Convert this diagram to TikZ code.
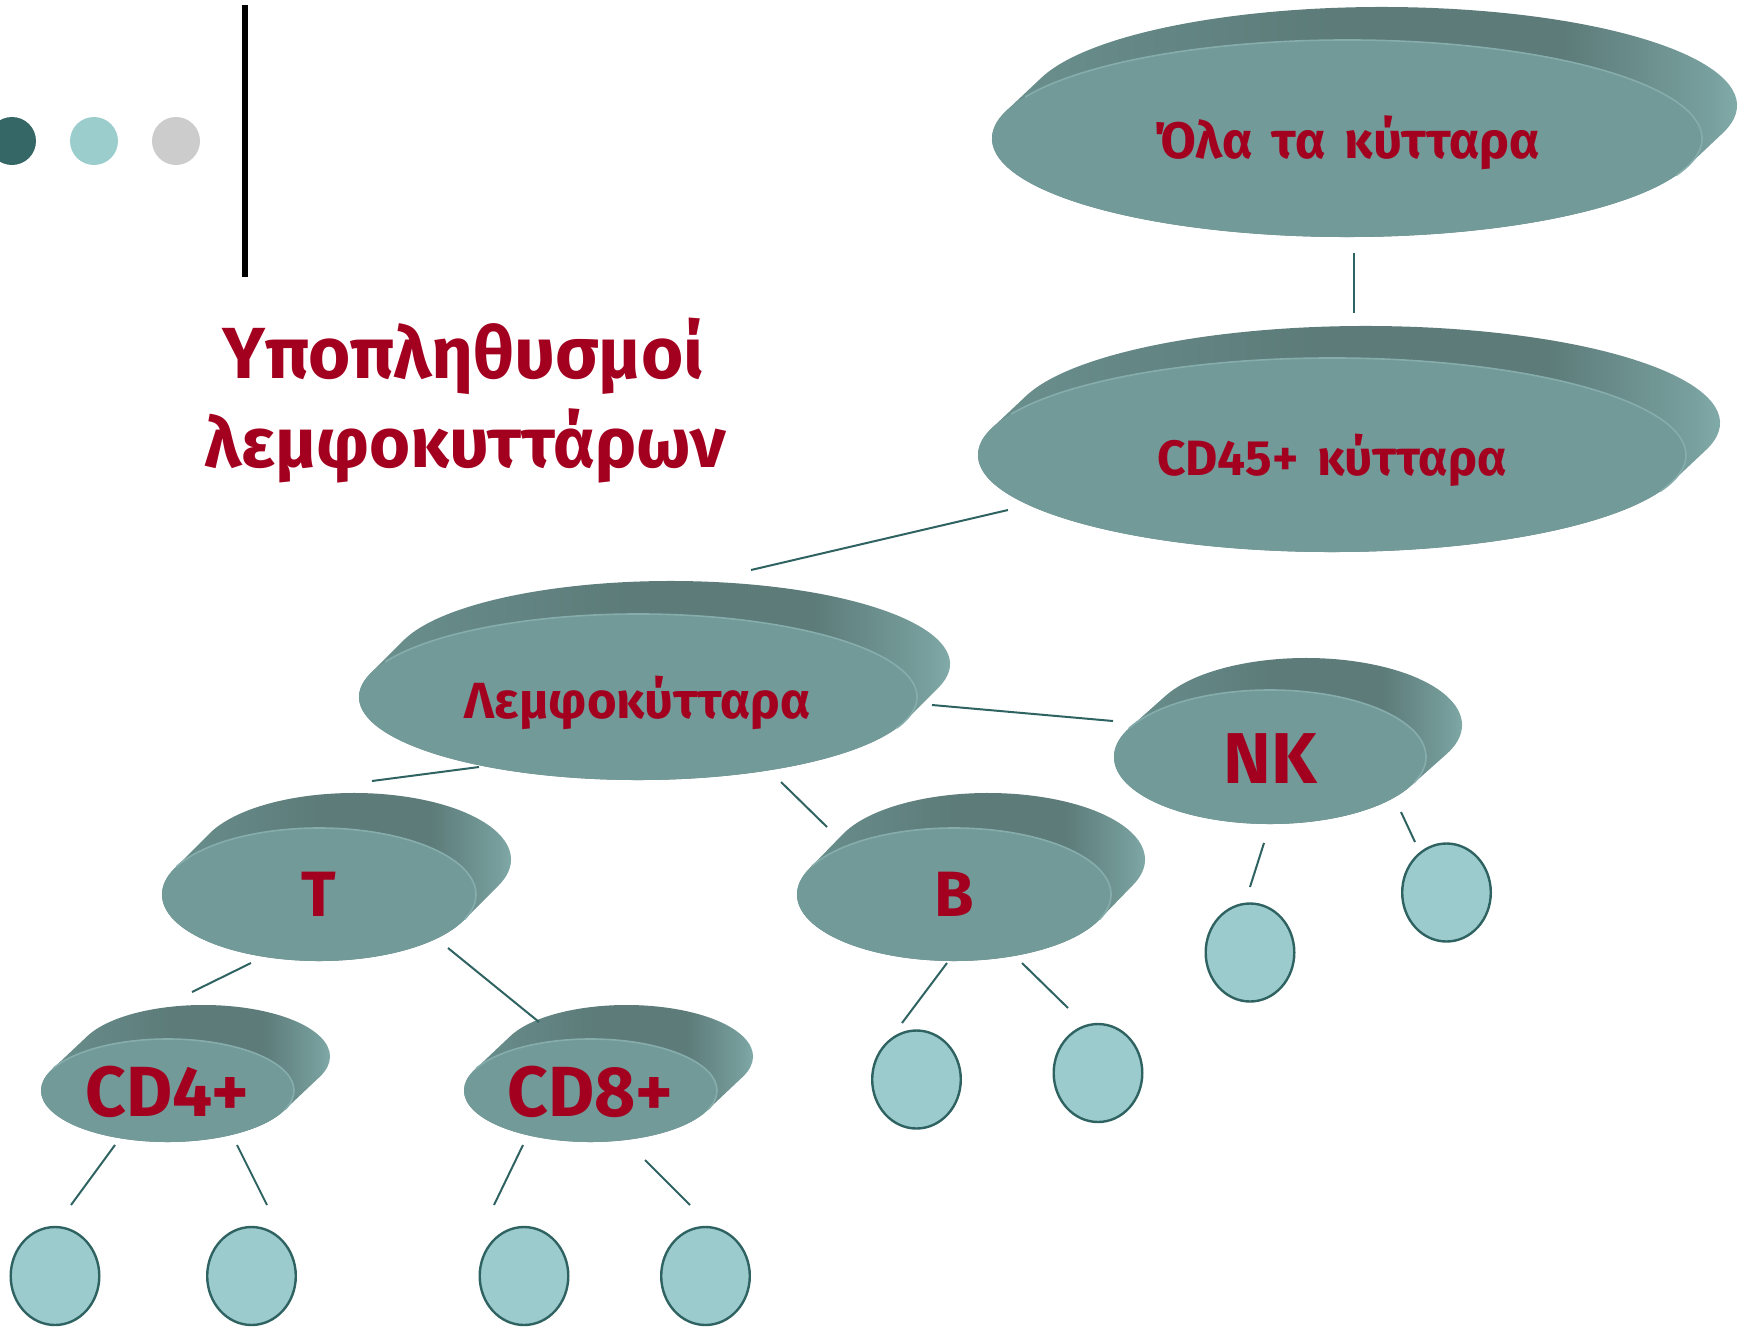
\documentclass[tikz,border=0pt]{standalone}
\usepackage{fontspec}
\setmainfont{Fira Sans}
\usetikzlibrary{shapes.geometric}

\definecolor{faceC}{HTML}{729A99}
\definecolor{rimC}{HTML}{86ADAC}
\definecolor{sdA}{HTML}{6C9391}
\definecolor{sdB}{HTML}{5C7B79}
\definecolor{sdC}{HTML}{78A09E}
\definecolor{sdD}{HTML}{8EBBB9}
\definecolor{lblC}{HTML}{A3001F}
\definecolor{lineC}{HTML}{2F6362}
\definecolor{leafC}{HTML}{9BCBCC}
\definecolor{dotA}{HTML}{356766}
\definecolor{dotB}{HTML}{9CCDCD}
\definecolor{dotC}{HTML}{CCCCCC}

% side wall of a disc: dark on top, lighter towards the right end
\pgfdeclarehorizontalshading{diskside}{100bp}{color(0bp)=(sdA); color(25bp)=(sdA);
  color(48bp)=(sdB); color(62bp)=(sdB); color(71bp)=(sdC); color(75bp)=(sdD); color(100bp)=(sdD)}

\newcommand\lblsize[1]{\fontsize{#1}{#1}\selectfont\bfseries}
\newcommand\wsp{\hspace{9.5pt}}

% #1 name, #2 cx, #3 cy, #4 rx, #5 ry, #6 dx, #7 dy (extrusion),
% #8 baseline offset below the centre, #9 label (with its size)
\newcommand\celldisk[9]{%
  \pgfmathsetmacro\da{atan((#5*#6)/(#4*#7))}%
  \pgfmathsetmacro\bl{#3+#8}%
  \shade[shading=diskside]
    ({#2+#6+#4*cos(\da+180)},{#3-#7+#5*sin(\da+180)})
    arc[start angle=\da+180, end angle=\da+360, x radius=#4, y radius=#5]
    -- ({#2+#4*cos(\da)},{#3+#5*sin(\da)})
    arc[start angle=\da, end angle=\da+180, x radius=#4, y radius=#5] -- cycle;
  \node[face, minimum width=#4pt, minimum height=#5pt] (#1) at (#2,#3) {};
  \draw[rim] ({#2+#4*cos(205)},{#3+#5*sin(205)})
    arc[start angle=205, end angle=382, x radius=#4, y radius=#5];
  \node[lbl] (#1-t) at (#2,\bl) {#9};
}

\begin{document}
\begin{tikzpicture}[x=0.5pt, y=-0.5pt,
  face/.style={ellipse, fill=faceC, inner sep=0pt},
  rim/.style={draw=rimC, line width=0.8pt},
  lbl/.style={text=lblC, inner sep=0pt, anchor=base},
  conn/.style={draw=lineC, line width=1pt},
  leaf/.style={ellipse, draw=lineC, fill=leafC, line width=1.2pt, inner sep=0pt,
    minimum width=44.3pt, minimum height=49pt},
  dot/.style={circle, inner sep=0pt, minimum size=24pt}]

\useasboundingbox (0,0) rectangle (1742,1328);

% header decoration
\node[dot, fill=dotA] (dot1) at (12,141) {};
\node[dot, fill=dotB] (dot2) at (94,141) {};
\node[dot, fill=dotC] (dot3) at (176,141) {};
\draw[line width=3.3pt] (245,5) -- (245,277);

% title
\node[lbl, font=\lblsize{36.2pt}] (title1) at (463,378) {Υποπληθυσμοί};
\node[lbl, font=\lblsize{35.2pt}] (title2) at (465,467) {λεμφοκυττάρων};

% discs
\celldisk{all}{1347}{138.5}{355}{98.5}{35}{33}{20}{\lblsize{25.6pt}Όλα\wsp τα\wsp κύτταρα}
\celldisk{cd45}{1332}{455}{354}{97}{34}{32}{20}{\lblsize{24.8pt}CD45+\wsp κύτταρα}
\celldisk{lym}{638}{697}{279}{83}{33}{33}{21}{\lblsize{25.4pt}Λεμφοκύτταρα}
\celldisk{nk}{1270}{757}{156}{67}{36}{32}{26}{\lblsize{36pt}NK}
\celldisk{tc}{319}{894.5}{157}{66.5}{35}{35}{22}{\lblsize{32pt}T}
\celldisk{bc}{954}{894.5}{157}{66.5}{34}{35}{22}{\lblsize{32pt}B}
\celldisk{cd4}{167.5}{1090.5}{126.5}{51.5}{36}{34}{25.5}{\lblsize{35.5pt}CD4+}
\celldisk{cd8}{590.5}{1090.5}{126.5}{51.5}{36}{34}{25.5}{\lblsize{35.5pt}CD8+}

% unlabelled sub-populations
\node[leaf] (c1) at (55,1276) {};
\node[leaf] (c2) at (251.5,1276) {};
\node[leaf] (c3) at (524,1276) {};
\node[leaf] (c4) at (705.5,1276) {};
\node[leaf] (c5) at (916.5,1079.5) {};
\node[leaf] (c6) at (1098,1073) {};
\node[leaf] (c7) at (1250,952.5) {};
\node[leaf] (c8) at (1446.5,892.5) {};

% connector ends
\coordinate (all-s) at (1354,253);   \coordinate (cd45-n) at (1354,313);
\coordinate (cd45-s) at (1008,510);  \coordinate (lym-n) at (751,570);
\coordinate (lym-e) at (932,705);    \coordinate (nk-w) at (1113,721);
\coordinate (lym-sw) at (479,767);   \coordinate (tc-n) at (372,781);
\coordinate (lym-se) at (781,782);   \coordinate (bc-n) at (827,827);
\coordinate (tc-sw) at (251,963);    \coordinate (cd4-n) at (192,992);
\coordinate (tc-se) at (448,948);    \coordinate (cd8-n) at (539,1022);
\coordinate (cd4-sw) at (115,1145);  \coordinate (c1-n) at (71,1205);
\coordinate (cd4-se) at (237,1145);  \coordinate (c2-n) at (267,1205);
\coordinate (cd8-sw) at (523,1145);  \coordinate (c3-n) at (494,1205);
\coordinate (cd8-se) at (645,1160);  \coordinate (c4-n) at (690,1205);
\coordinate (bc-sw) at (947,963);    \coordinate (c5-n) at (902,1023);
\coordinate (bc-se) at (1022,963);   \coordinate (c6-n) at (1068,1008);
\coordinate (nk-sw) at (1264,843);   \coordinate (c7-n) at (1250,887);
\coordinate (nk-se) at (1401,812);   \coordinate (c8-n) at (1415,842);

% connectors
\draw[conn] (all-s) -- (cd45-n);
\draw[conn] (cd45-s) -- (lym-n);
\draw[conn] (lym-e) -- (nk-w);
\draw[conn] (lym-sw) -- (tc-n);
\draw[conn] (lym-se) -- (bc-n);
\draw[conn] (tc-sw) -- (cd4-n);
\draw[conn] (tc-se) -- (cd8-n);
\draw[conn] (cd4-sw) -- (c1-n);
\draw[conn] (cd4-se) -- (c2-n);
\draw[conn] (cd8-sw) -- (c3-n);
\draw[conn] (cd8-se) -- (c4-n);
\draw[conn] (bc-sw) -- (c5-n);
\draw[conn] (bc-se) -- (c6-n);
\draw[conn] (nk-sw) -- (c7-n);
\draw[conn] (nk-se) -- (c8-n);
\end{tikzpicture}
\end{document}
